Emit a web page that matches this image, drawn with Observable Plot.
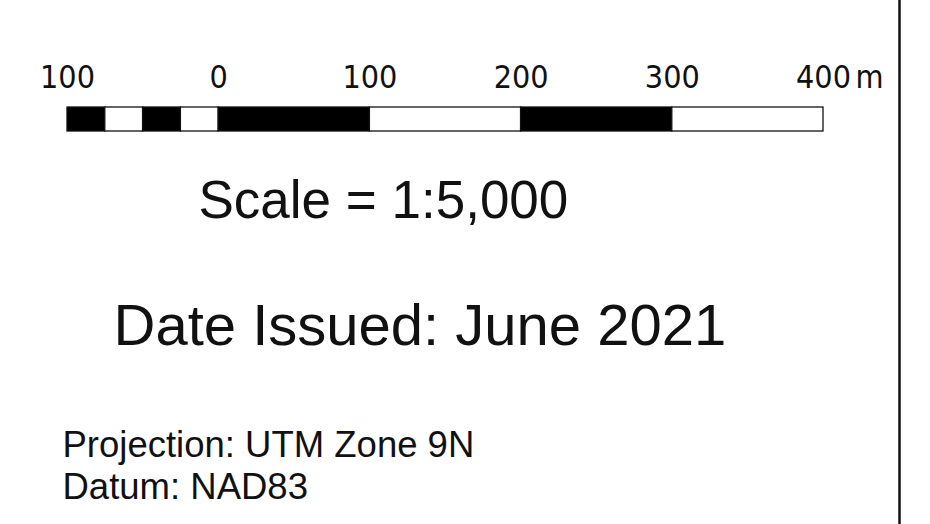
<!DOCTYPE html>
<html>
<head>
<meta charset="utf-8">
<script src="https://cdn.jsdelivr.net/npm/d3@7"></script>
<script src="https://cdn.jsdelivr.net/npm/@observablehq/plot@0.6"></script>
<style>
  html, body { margin: 0; padding: 0; background: #fff; }
  #chart svg { display: block; }
</style>
</head>
<body>
<div id="chart"></div>
<script>
// Scale bar data (metres)
const tickValues = [-100, 0, 100, 200, 300, 400];
const tickLabels = ["100", "0", "100", "200", "300", "400"];
const unitLabel = "m";
const segStarts = [-100, -75, -50, -25, 0, 100, 200, 300];
const segEnds   = [-75, -50, -25, 0, 100, 200, 300, 400];
const scaleText = "Scale = 1:5,000";
const dateText = "Date Issued: June 2021";
const infoLines = ["Projection: UTM Zone 9N", "Datum: NAD83"];

const segments = segStarts.map((s, i) => ({x1: s, x2: segEnds[i], fill: i % 2 === 0 ? "black" : "white"}));
const ticks = tickValues.map((v, i) => ({x: v, label: tickLabels[i]}));

const W = 930, H = 524;
const condensed = "'DejaVu Sans Condensed', 'DejaVu Sans', sans-serif";
const arial = "'Liberation Sans', Arial, sans-serif";

const chart = Plot.plot({
  width: W,
  height: H,
  margin: 0,
  x: {domain: [-100, 400], range: [67, 823], axis: null},
  y: {domain: [0, H], range: [0, H], axis: null},
  marks: [
    // bar segments
    Plot.rect(segments, {x1: "x1", x2: "x2", y1: 107, y2: 131, fill: "fill", stroke: "#111", strokeWidth: 1.3}),
    // tick labels
    Plot.text(ticks, {x: "x", y: 87, text: "label", lineAnchor: "bottom", fontSize: 32, fill: "#111",
      fontFamily: condensed, fontStretch: "condensed"}),
    Plot.text([unitLabel], {x: tickValues[tickValues.length - 1], y: 87, text: d => d, dx: 32, textAnchor: "start",
      lineAnchor: "bottom", fontSize: 32, fill: "#111", fontFamily: condensed, fontStretch: "condensed"}),
    // map frame border
    Plot.ruleX([400], {dx: 76, stroke: "#111", strokeWidth: 2.5}),
    // scale text
    Plot.text([scaleText], {frameAnchor: "top-left", dx: 198, dy: 217, text: d => d, textAnchor: "start",
      lineAnchor: "bottom", fontSize: 53, fill: "#111", fontFamily: arial}),
    Plot.text([dateText], {frameAnchor: "top-left", dx: 113, dy: 344, text: d => d, textAnchor: "start",
      lineAnchor: "bottom", fontSize: 58, fill: "#111", fontFamily: arial}),
    Plot.text(infoLines, {frameAnchor: "left", dx: 62, y: (d, i) => 456 + i * 42,
      text: d => d, textAnchor: "start", lineAnchor: "bottom", fontSize: 36.5, fill: "#111", fontFamily: arial})
  ]
});
document.getElementById("chart").appendChild(chart);
</script>
</body>
</html>
